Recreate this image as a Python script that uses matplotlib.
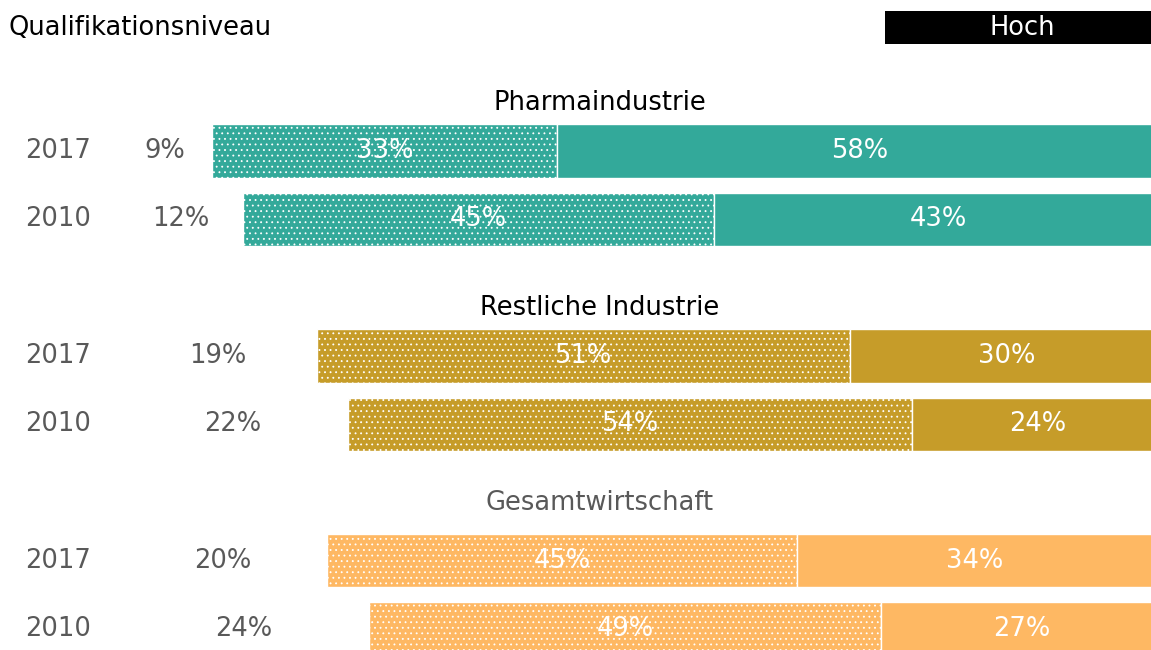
import matplotlib
matplotlib.use('Agg')
import matplotlib.pyplot as plt
from matplotlib.patches import Rectangle

# Daten: Anteil der Beschäftigten nach Qualifikationsniveau (in %)
groups = ['Pharmaindustrie', 'Restliche Industrie', 'Gesamtwirtschaft']
years = ['2017', '2010']
niedrig = [[9, 12], [19, 22], [20, 24]]
mittel = [[33, 45], [51, 54], [45, 49]]
hoch = [[58, 43], [30, 24], [34, 27]]

colors = ['#33a99a', '#c69c29', '#feb863']
title_colors = ['black', 'black', '#595959']
gray = '#595959'

plt.rcParams['font.family'] = 'DejaVu Sans'
plt.rcParams['hatch.linewidth'] = 0.6

fig = plt.figure(figsize=(11.51, 6.5), dpi=100)
ax = fig.add_axes([0, 0, 1, 1])

fs = 18.5
row = 0
for g, name in enumerate(groups):
    # Gruppentitel
    off = 0.70 if g < 2 else 0.85
    ax.text(0.521, row - off, name, transform=ax.get_yaxis_transform(),
            ha='center', va='center', fontsize=fs, color=title_colors[g])
    for j, year in enumerate(years):
        y = row + j
        lo, mi, hi = niedrig[g][j], mittel[g][j], hoch[g][j]
        ax.barh(y, mi, left=lo, height=0.78, color=colors[g],
                edgecolor='white', linewidth=1.0, hatch='...')
        ax.barh(y, hi, left=lo + mi, height=0.78, color=colors[g],
                edgecolor='white', linewidth=1.0)
        ax.text(0.0217, y, year, transform=ax.get_yaxis_transform(),
                ha='left', va='center', fontsize=fs, color=gray)
        ax.text(lo / 2, y, f'{lo}%', ha='center', va='center',
                fontsize=fs, color=gray)
        ax.text(lo + mi / 2, y, f'{mi}%', ha='center', va='center',
                fontsize=fs, color='white')
        ax.text(lo + mi + hi / 2, y, f'{hi}%', ha='center', va='center',
                fontsize=fs, color='white', clip_on=False)
    row += 3

ax.set_xlim(-118 / 10.45, (1151 - 118) / 10.45)
ax.set_ylim((650 - 151) / 68.3, -151 / 68.3)
ax.axis('off')

# Kopfzeile mit Legende
fig.text(8 / 1151, 1 - 28 / 650, 'Qualifikationsniveau', ha='left',
         va='center', fontsize=fs, color='black')
fig.patches.append(Rectangle((885 / 1151, 1 - 44 / 650), 266 / 1151, 33 / 650,
                             transform=fig.transFigure, facecolor='black',
                             edgecolor='none'))
fig.text(1022 / 1151, 1 - 28 / 650, 'Hoch', ha='center', va='center',
         fontsize=fs, color='white')

plt.savefig('out.png', dpi=100)
